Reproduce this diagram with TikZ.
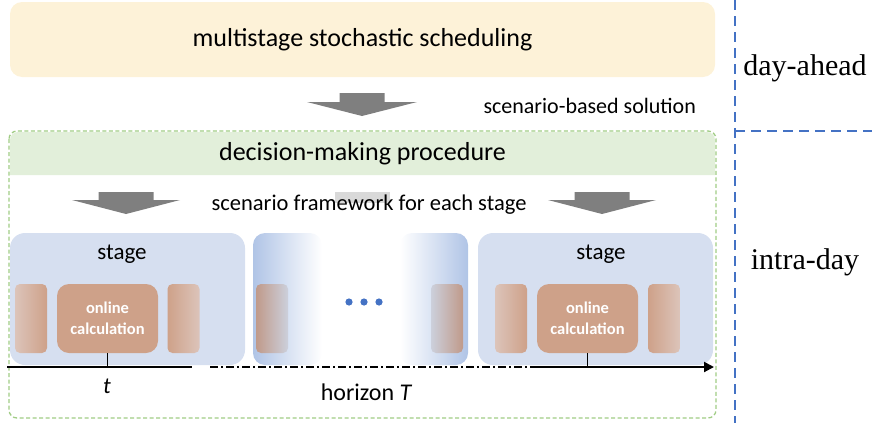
\documentclass[tikz,border=0pt]{standalone}
\usepackage{fontspec}
\setmainfont{Liberation Serif}
\newfontfamily\calfont{Carlito}
\usetikzlibrary{arrows.meta}
\definecolor{yellowbg}{HTML}{FDF2D8}
\definecolor{greenbg}{HTML}{E2EFDA}
\definecolor{greenline}{HTML}{A0CC84}
\definecolor{bluebg}{HTML}{D6DFF0}
\definecolor{bluedeep}{HTML}{B0C4E6}
\definecolor{bluedash}{HTML}{4472C4}
\definecolor{brownbox}{HTML}{CEA189}
\definecolor{brownlight}{HTML}{DCC4BA}
\definecolor{brownmid}{HTML}{C09A8A}
\definecolor{greyblue}{HTML}{CCD0DC}
\definecolor{arrowgray}{HTML}{7F7F7F}
\definecolor{ghostgray}{HTML}{D9D9D9}
\tikzset{
  calib/.style={font=\calfont\fontsize{#1}{#1}\selectfont},
  stagebox/.style={fill=bluebg, rounded corners=15pt, minimum width=235pt, minimum height=132pt, inner sep=0pt},
  calcbox/.style={fill=brownbox, rounded corners=12pt, minimum width=101pt, minimum height=69pt, inner sep=0pt, text=white, align=center, font=\calfont\bfseries\fontsize{16.5}{21}\selectfont},
  sidebox/.style={rounded corners=5pt, minimum width=32pt, minimum height=69pt, inner sep=0pt},
  fadeR/.style={sidebox, left color=brownbox, right color=brownlight},
  fadeL/.style={sidebox, left color=brownlight, right color=brownbox},
  bigarrow/.style={fill=arrowgray},
  blueline/.style={draw=bluedash, line width=2.5pt, dash pattern=on 10pt off 6pt},
}
\begin{document}
\begin{tikzpicture}[x=1pt,y=-1pt]
\useasboundingbox (0,0) rectangle (872,423);

% day-ahead block
\node[fill=yellowbg, rounded corners=12pt, minimum width=705pt, minimum height=75pt, calib=26] (sched) at (362.5,39.5) {multistage stochastic scheduling};

\fill[bigarrow, shift={(362,93)}] (-22.5,0) -- (22.5,0) -- (22.5,9) -- (55,9) -- (0,23) -- (-55,9) -- (-22.5,9) -- cycle;
\node[calib=22, anchor=west] (sol) at (480,106) {scenario-based solution};

% right separators
\coordinate (vtop) at (735,0);
\coordinate (vbot) at (735,423);
\coordinate (hl) at (735,131);
\coordinate (hr) at (872,131);
\draw[blueline] (vtop) -- (vbot);
\draw[blueline] (hl) -- (hr);
\node[font=\fontsize{30}{30}\selectfont] (da) at (805,68) {day-ahead};
\node[font=\fontsize{30}{30}\selectfont] (id) at (805,262) {intra-day};

% decision-making procedure
\fill[greenbg] (10,175) {[rounded corners=8pt] -- (10,132) -- (715,132)} -- (715,175) -- cycle;
\draw[greenline, line width=1.3pt, dash pattern=on 4pt off 2.5pt, rounded corners=8pt] (9,131) rectangle (716,418);
\node[calib=26] (dmp) at (362.5,154) {decision-making procedure};

\fill[bigarrow, shift={(126,192)}] (-27.5,0) -- (27.5,0) -- (27.5,8) -- (54,8) -- (0,22) -- (-54,8) -- (-27.5,8) -- cycle;
\fill[bigarrow, shift={(602,192)}] (-27.5,0) -- (27.5,0) -- (27.5,8) -- (54,8) -- (0,22) -- (-54,8) -- (-27.5,8) -- cycle;
\fill[ghostgray] (335,192) rectangle (390,203);
\node[calib=22.5] (frame) at (369,205) {scenario framework for each stage};

% left stage
\node[stagebox] (st1) at (127.5,299) {};
\node[calib=23] (st1l) at (122,254) {stage};
\node[fadeL] (s1a) at (31,318.5) {};
\node[calcbox] (oc1) at (107.5,318.5) {online\\calculation};
\node[fadeR] (s1b) at (183.5,318.5) {};

% middle (faded) stages
\shade[left color=bluedeep, right color=white, rounded corners=12pt] (253,233) rectangle (322,365);
\shade[left color=white, right color=bluedeep, rounded corners=12pt] (400,233) rectangle (468,365);
\node[sidebox, left color=brownmid, right color=greyblue] (m1) at (272,318.5) {};
\node[sidebox, left color=greyblue, right color=brownmid] (m2) at (447,318.5) {};
\fill[bluedash] (349,302) circle (3.6) (364,302) circle (3.6) (379,302) circle (3.6);

% right stage
\node[stagebox] (st2) at (595.5,299) {};
\node[calib=23] (st2l) at (601,254) {stage};
\node[fadeL] (s2a) at (511,318.5) {};
\node[calcbox] (oc2) at (587.5,318.5) {online\\calculation};
\node[fadeR] (s2b) at (664,318.5) {};

% time axis
\coordinate (t0) at (7,367);
\coordinate (t1) at (192,367);
\coordinate (t2) at (210,367);
\coordinate (t3) at (535,367);
\coordinate (tend) at (714,367);
\draw[line width=2.6pt] (t0) -- (t1);
\draw[line width=2pt, dash pattern=on 8pt off 3pt on 2pt off 3pt] (t2) -- (t3);
\draw[line width=2pt, -{Triangle[length=10pt,width=10pt]}] (t3) -- (tend);
\draw[line width=0.8pt] (oc1.south) -- (oc1.south |- t0);
\draw[line width=0.8pt] (oc2.south) -- (oc2.south |- t0);
\node[calib=23] (tl) at (107,386) {\itshape t};
\node[calib=24] (hz) at (366,392) {horizon \itshape T};
\end{tikzpicture}
\end{document}
